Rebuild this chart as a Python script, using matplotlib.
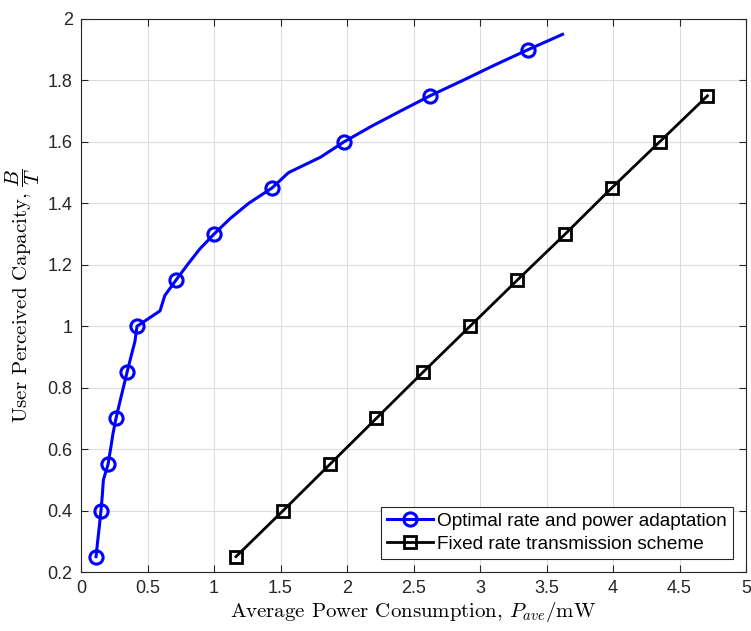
import matplotlib
matplotlib.use('Agg')
import matplotlib.pyplot as plt
import numpy as np

plt.rcParams['font.family'] = ['Liberation Sans', 'DejaVu Sans']
plt.rcParams['mathtext.fontset'] = 'cm'

# ---------------- optimal rate and power adaptation ----------------
capacity_opt = [0.25, 0.30, 0.35, 0.40, 0.45, 0.50, 0.55, 0.60, 0.65, 0.70, 0.75, 0.80,
                0.85, 0.90, 0.95, 1.00, 1.05, 1.10, 1.15, 1.20, 1.25, 1.30, 1.35, 1.40,
                1.45, 1.50, 1.55, 1.60, 1.65, 1.70, 1.75, 1.80, 1.85, 1.90, 1.95]
power_opt = [0.113, 0.125, 0.138, 0.150, 0.160, 0.168, 0.203, 0.222, 0.240, 0.263, 0.290, 0.318,
             0.346, 0.375, 0.405, 0.421, 0.594, 0.630, 0.714, 0.800, 0.890, 1.000, 1.120, 1.260,
             1.436, 1.560, 1.800, 1.977, 2.180, 2.400, 2.624, 2.870, 3.110, 3.360, 3.620]

# ---------------- fixed rate transmission ----------------
capacity_fix = [0.25, 0.40, 0.55, 0.70, 0.85, 1.00, 1.15, 1.30, 1.45, 1.60, 1.75]
power_fix = [1.165, 1.52, 1.87, 2.22, 2.57, 2.925, 3.28, 3.64, 3.99, 4.35, 4.71]

fig = plt.figure(figsize=(7.51, 6.31), dpi=100)
ax = fig.add_axes([0.1079, 0.0935, 0.8855, 0.8764])

ax.plot(power_opt, capacity_opt, color='#0000ff', linewidth=2.2, marker='o', markersize=9.5,
        markerfacecolor='none', markeredgewidth=2.2, markevery=3,
        label='Optimal rate and power adaptation')
ax.plot(power_fix, capacity_fix, color='k', linewidth=2, marker='s', markersize=8,
        markerfacecolor='none', markeredgewidth=2,
        label='Fixed rate transmission scheme')

ax.set_xlim(0, 5)
ax.set_ylim(0.2, 2)
ax.set_xticks(np.arange(0, 5.01, 0.5))
ax.set_yticks(np.arange(0.2, 2.01, 0.2))
ax.set_xticklabels(['0', '0.5', '1', '1.5', '2', '2.5', '3', '3.5', '4', '4.5', '5'])
ax.set_yticklabels(['0.2', '0.4', '0.6', '0.8', '1', '1.2', '1.4', '1.6', '1.8', '2'])

ax.grid(True, color='#dcdcdc', linewidth=0.8)
ax.set_axisbelow(True)
for s in ax.spines.values():
    s.set_color('#262626')
    s.set_linewidth(0.8)
ax.tick_params(direction='in', top=True, right=True, labelsize=13, colors='#262626',
               length=5, width=0.8, pad=6)

ax.set_xlabel(r'Average Power Consumption, $P_{ave}$/mW', fontsize=15,
              family='cmr10', labelpad=2)
ax.set_ylabel(r'User Perceived Capacity, $\dfrac{B}{T}$', fontsize=15,
              family='cmr10', labelpad=4)

leg = ax.legend(loc='lower right', fontsize=13.7, fancybox=False, framealpha=1,
                edgecolor='#262626', handlelength=2.4, handletextpad=0.25,
                borderpad=0.3, labelspacing=0.3, borderaxespad=0.7)
leg.get_frame().set_linewidth(0.8)

plt.savefig('out.png', dpi=100)
